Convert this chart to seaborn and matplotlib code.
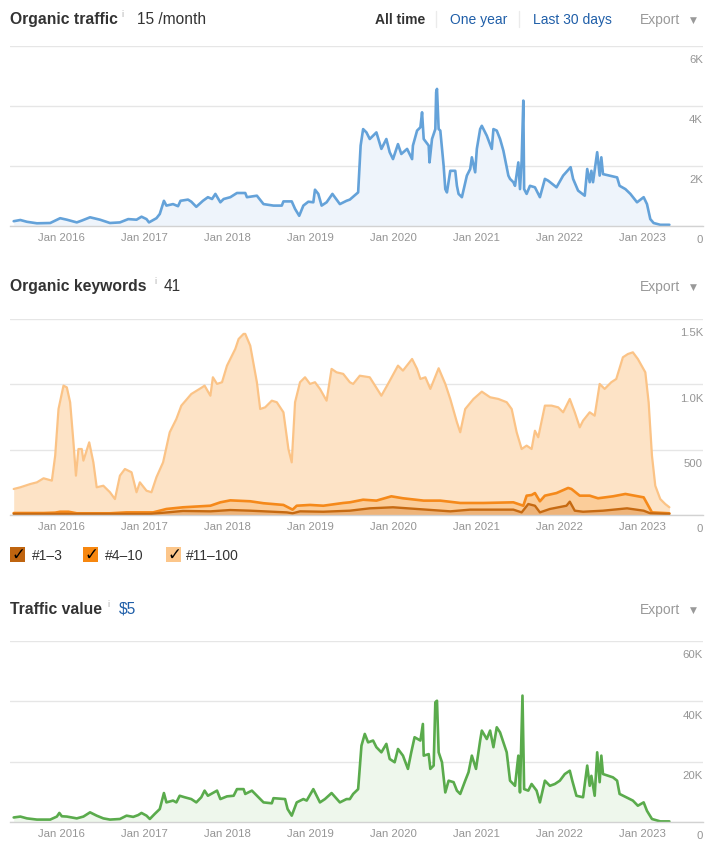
import numpy as np
import matplotlib
matplotlib.use("Agg")
import matplotlib.pyplot as plt
import matplotlib.patches as mpatches
import matplotlib.lines as mlines
import seaborn as sns

# --------------------------------------------------------------------------- #
# Data (time in decimal years)
# --------------------------------------------------------------------------- #
traffic_t = [
    2015.43, 2015.51, 2015.59, 2015.71, 2015.87, 2015.99, 2016.07, 2016.19, 2016.25, 2016.35,
    2016.47, 2016.59, 2016.71, 2016.81, 2016.91, 2016.97, 2017.03, 2017.06, 2017.15, 2017.19,
    2017.24, 2017.27, 2017.35, 2017.41, 2017.44, 2017.53, 2017.57, 2017.63, 2017.71, 2017.77,
    2017.82, 2017.86, 2017.92, 2017.96, 2018.04, 2018.12, 2018.22, 2018.24, 2018.36, 2018.44,
    2018.56, 2018.66, 2018.68, 2018.78, 2018.82, 2018.87, 2018.92, 2018.98, 2019.04, 2019.06,
    2019.10, 2019.14, 2019.20, 2019.27, 2019.36, 2019.44, 2019.48, 2019.56, 2019.58, 2019.61,
    2019.64, 2019.68, 2019.72, 2019.80, 2019.86, 2019.92, 2019.96, 2020.00, 2020.06, 2020.10,
    2020.17, 2020.23, 2020.24, 2020.29, 2020.33, 2020.35, 2020.37, 2020.43, 2020.44, 2020.47,
    2020.51, 2020.52, 2020.53, 2020.55, 2020.57, 2020.61, 2020.63, 2020.65, 2020.69, 2020.75,
    2020.77, 2020.79, 2020.83, 2020.89, 2020.93, 2020.95, 2020.99, 2021.01, 2021.05, 2021.07,
    2021.13, 2021.19, 2021.21, 2021.25, 2021.29, 2021.33, 2021.39, 2021.41, 2021.45, 2021.47,
    2021.51, 2021.53, 2021.55, 2021.57, 2021.58, 2021.61, 2021.65, 2021.71, 2021.77, 2021.83,
    2021.87, 2021.97, 2022.05, 2022.14, 2022.17, 2022.23, 2022.31, 2022.34, 2022.37, 2022.39,
    2022.41, 2022.46, 2022.49, 2022.51, 2022.53, 2022.61, 2022.70, 2022.73, 2022.80, 2022.86,
    2022.94, 2023.02, 2023.06, 2023.10, 2023.14, 2023.22, 2023.33,
]
traffic = [
    160, 200, 140, 90, 100, 260, 210, 120, 180, 290,
    210, 100, 120, 230, 210, 310, 230, 120, 260, 400,
    840, 680, 730, 660, 840, 880, 810, 640, 840, 960,
    900, 1070, 790, 900, 960, 1100, 1100, 960, 1010, 730,
    680, 680, 820, 820, 570, 340, 680, 810, 790, 1210,
    1070, 680, 790, 1070, 730, 840, 880, 1070, 1120, 2680,
    3230, 3120, 2900, 3120, 2570, 2900, 2460, 2230, 2730, 2400,
    2570, 2230, 2680, 3180, 3290, 3790, 2900, 2680, 2120, 2900,
    3230, 4460, 4570, 3230, 3180, 2010, 1230, 1120, 1840, 1840,
    1340, 1070, 960, 1680, 1900, 2290, 1790, 2570, 3230, 3340,
    3010, 2570, 3230, 3180, 2900, 2510, 1680, 1570, 1460, 1340,
    2120, 1230, 2180, 4180, 1230, 1070, 1340, 1290, 960, 1570,
    1510, 1290, 1680, 1960, 1570, 1180, 1010, 1900, 1460, 1840,
    1460, 2460, 1680, 2290, 1730, 1680, 1620, 1340, 1230, 1070,
    790, 960, 730, 230, 100, 40, 40,
]

# keywords ranking in top 100 / top 10 / top 3 (nested, so they stack)
kw100_t = [
    2015.43, 2015.51, 2015.63, 2015.71, 2015.79, 2015.89, 2015.93, 2015.97, 2016.03, 2016.07,
    2016.11, 2016.15, 2016.18, 2016.21, 2016.25, 2016.27, 2016.34, 2016.39, 2016.43, 2016.51,
    2016.59, 2016.65, 2016.71, 2016.77, 2016.85, 2016.91, 2016.95, 2017.03, 2017.09, 2017.15,
    2017.23, 2017.31, 2017.39, 2017.45, 2017.57, 2017.70, 2017.73, 2017.80, 2017.83, 2017.88,
    2017.94, 2018.00, 2018.10, 2018.14, 2018.20, 2018.22, 2018.28, 2018.36, 2018.40, 2018.46,
    2018.54, 2018.60, 2018.68, 2018.74, 2018.78, 2018.82, 2018.88, 2018.94, 2019.00, 2019.06,
    2019.12, 2019.20, 2019.26, 2019.32, 2019.40, 2019.48, 2019.52, 2019.60, 2019.72, 2019.86,
    2019.94, 2020.06, 2020.12, 2020.23, 2020.29, 2020.33, 2020.39, 2020.45, 2020.55, 2020.63,
    2020.69, 2020.77, 2020.81, 2020.87, 2020.97, 2021.07, 2021.17, 2021.27, 2021.37, 2021.43,
    2021.49, 2021.55, 2021.61, 2021.67, 2021.71, 2021.75, 2021.83, 2021.91, 2021.99, 2022.05,
    2022.13, 2022.19, 2022.25, 2022.29, 2022.37, 2022.43, 2022.49, 2022.55, 2022.63, 2022.69,
    2022.77, 2022.83, 2022.89, 2022.95, 2023.04, 2023.08, 2023.12, 2023.16, 2023.22, 2023.28,
    2023.33,
]
kw100 = [
    199, 212, 237, 250, 281, 263, 454, 811, 990, 977,
    863, 556, 301, 505, 505, 416, 556, 403, 212, 224,
    174, 122, 301, 352, 327, 174, 250, 186, 174, 289,
    403, 633, 735, 837, 926, 977, 990, 913, 1054, 1003,
    1016, 1143, 1271, 1347, 1386, 1386, 1296, 1016, 811, 824,
    875, 863, 786, 505, 403, 863, 1016, 1054, 1003, 1016,
    965, 875, 1118, 1092, 1080, 1016, 1003, 1066, 1054, 913,
    1003, 1143, 1105, 1194, 1118, 1041, 1054, 965, 1123, 1003,
    888, 710, 633, 811, 888, 944, 901, 888, 863, 811,
    633, 505, 531, 505, 645, 595, 837, 837, 824, 786,
    888, 786, 671, 722, 786, 760, 1003, 965, 1016, 1041,
    1207, 1232, 1245, 1194, 1092, 863, 454, 224, 122, 84,
    59,
]
kw10_t = [
    2015.43, 2015.79, 2015.93, 2015.99, 2016.09, 2016.19, 2016.59, 2016.79, 2017.11, 2017.27,
    2017.47, 2017.80, 2017.92, 2018.04, 2018.28, 2018.44, 2018.68, 2018.79, 2018.84, 2019.00,
    2019.16, 2019.40, 2019.48, 2019.64, 2019.80, 2019.98, 2020.12, 2020.37, 2020.57, 2020.81,
    2021.09, 2021.45, 2021.57, 2021.61, 2021.67, 2021.71, 2021.77, 2021.83, 2021.97, 2022.11,
    2022.15, 2022.25, 2022.37, 2022.47, 2022.65, 2022.80, 2023.02, 2023.12, 2023.33,
]
kw10 = [
    15, 15, 18, 25, 25, 13, 13, 20, 20, 46,
    59, 71, 97, 112, 105, 90, 77, 41, 71, 77,
    71, 92, 97, 117, 110, 143, 128, 110, 110, 92,
    92, 97, 71, 148, 153, 168, 105, 148, 168, 207,
    199, 148, 148, 128, 143, 161, 135, 20, 13,
]
kw3_t = [
    2015.43, 2017.07, 2017.47, 2017.80, 2018.04, 2018.28, 2018.72, 2018.79, 2018.88, 2019.16,
    2019.48, 2019.72, 2020.00, 2020.29, 2020.69, 2020.93, 2021.45, 2021.55, 2021.63, 2021.71,
    2021.77, 2021.89, 2022.09, 2022.13, 2022.19, 2022.29, 2022.53, 2022.82, 2023.02, 2023.10,
    2023.33,
]
kw3 = [
    8, 8, 31, 28, 38, 33, 20, 13, 28, 25,
    33, 51, 59, 46, 28, 41, 41, 20, 84, 71,
    20, 46, 71, 102, 33, 25, 33, 51, 33, 13,
    8,
]

value_t = [
    2015.43, 2015.51, 2015.59, 2015.71, 2015.87, 2015.95, 2015.98, 2016.01, 2016.07, 2016.19,
    2016.27, 2016.35, 2016.43, 2016.51, 2016.59, 2016.71, 2016.79, 2016.87, 2016.93, 2016.97,
    2017.03, 2017.07, 2017.13, 2017.19, 2017.24, 2017.27, 2017.35, 2017.39, 2017.43, 2017.49,
    2017.57, 2017.63, 2017.69, 2017.73, 2017.77, 2017.88, 2017.92, 2018.00, 2018.08, 2018.12,
    2018.20, 2018.22, 2018.30, 2018.38, 2018.44, 2018.54, 2018.56, 2018.70, 2018.73, 2018.78,
    2018.84, 2018.92, 2018.96, 2019.04, 2019.08, 2019.12, 2019.18, 2019.26, 2019.36, 2019.44,
    2019.48, 2019.52, 2019.58, 2019.62, 2019.66, 2019.70, 2019.76, 2019.80, 2019.86, 2019.92,
    2019.96, 2020.02, 2020.06, 2020.12, 2020.18, 2020.22, 2020.26, 2020.33, 2020.36, 2020.37,
    2020.43, 2020.45, 2020.49, 2020.51, 2020.53, 2020.55, 2020.59, 2020.63, 2020.67, 2020.73,
    2020.77, 2020.81, 2020.87, 2020.91, 2020.95, 2021.00, 2021.05, 2021.07, 2021.13, 2021.17,
    2021.21, 2021.25, 2021.29, 2021.33, 2021.37, 2021.41, 2021.47, 2021.51, 2021.53, 2021.56,
    2021.58, 2021.63, 2021.67, 2021.73, 2021.77, 2021.83, 2021.89, 2021.95, 2022.01, 2022.07,
    2022.13, 2022.16, 2022.21, 2022.29, 2022.34, 2022.37, 2022.39, 2022.43, 2022.46, 2022.49,
    2022.51, 2022.53, 2022.65, 2022.70, 2022.73, 2022.81, 2022.89, 2022.95, 2023.02, 2023.06,
    2023.12, 2023.22, 2023.33,
]
value = [
    1500, 1800, 1200, 800, 800, 1800, 3000, 1900, 1800, 1200,
    1800, 3200, 2100, 1200, 800, 1000, 2100, 1700, 2300, 3000,
    2100, 1000, 2700, 4300, 9600, 6500, 7100, 6500, 8700, 8200,
    7600, 6500, 8200, 10400, 8700, 10400, 7600, 8500, 8700, 10900,
    10900, 9300, 10400, 8200, 6500, 6200, 7900, 7600, 4300, 2100,
    6500, 7600, 7100, 10900, 8700, 6500, 7600, 9600, 6500, 7600,
    7600, 9300, 10900, 25300, 29200, 26400, 27000, 24800, 23100, 25900,
    20900, 19800, 24200, 22000, 17600, 23100, 28100, 27000, 32500, 22000,
    22500, 17600, 18700, 39700, 40200, 23100, 19800, 9800, 13700, 13200,
    10400, 9300, 13700, 16500, 22000, 17600, 27000, 30300, 27500, 30300,
    24800, 31400, 29700, 26400, 23100, 13700, 12000, 22000, 9800, 41900,
    10900, 10400, 12600, 10400, 6500, 13700, 12000, 12600, 13700, 15900,
    17000, 13700, 8700, 8200, 18700, 12000, 15300, 8700, 23100, 13200,
    22000, 15900, 14800, 13700, 9300, 8200, 7100, 5400, 6500, 3700,
    1000, 200, 200,
]

years = [2016, 2017, 2018, 2019, 2020, 2021, 2022, 2023]
traffic_ticks = [0, 2000, 4000, 6000]
traffic_tick_labels = ["0", "2K", "4K", "6K"]
kw_ticks = [0, 500, 1000, 1500]
kw_tick_labels = ["0", "500", "1.0K", "1.5K"]
value_ticks = [0, 20000, 40000, 60000]
value_tick_labels = ["0", "20K", "40K", "60K"]
legend_labels = ["#1–3", "#4–10", "#11–100"]

# --------------------------------------------------------------------------- #
# Figure setup
# --------------------------------------------------------------------------- #
sns.set_theme(style="white")
plt.rcParams["font.family"] = ["Liberation Sans", "DejaVu Sans"]

W, H = 708, 845
fig = plt.figure(figsize=(W / 100, H / 100), dpi=100)
fig.patch.set_facecolor("white")

DARK = "#333333"
GREY = "#999999"
BLUE_TXT = "#1f5ea8"


def fx(x):
    return x / W


def fy(y):
    return 1 - y / H


def rect(x0, y0, x1, y1):
    return [fx(x0), fy(y1), (x1 - x0) / W, (y1 - y0) / H]


X_MIN = 2016 + (10 - 61) / 83
X_MAX = 2016 + (703 - 61) / 83


def style_panel(ax, ticks, labels):
    ax.set_xlim(X_MIN, X_MAX)
    ax.set_ylim(0, ticks[-1])
    ax.set_yticks(ticks)
    ax.set_yticklabels([])
    ax.tick_params(axis="y", length=0)
    ax.grid(axis="y", color="#e6e6e6", lw=1)
    ax.grid(axis="x", visible=False)
    for s in ["top", "right", "left"]:
        ax.spines[s].set_visible(False)
    ax.spines["bottom"].set_color("#d2d2d2")
    ax.spines["bottom"].set_linewidth(1)
    ax.set_xticks(years)
    ax.set_xticklabels([f"Jan {y}" for y in years])
    ax.tick_params(axis="x", direction="in", length=4.7, width=0.8,
                   color="#d8d8d8", labelcolor="#959595", labelsize=8.2, pad=4)
    for v, lab in zip(ticks, labels):
        ax.annotate(lab, (1, v), xycoords=ax.get_yaxis_transform(),
                    xytext=(0, -9.7), textcoords="offset points",
                    ha="right", va="center", color="#959595", fontsize=8.2)
    ax.set_xlabel("")
    ax.set_ylabel("")


def header(y, title, info_x, value_txt, value_x, value_color):
    fig.text(fx(10), fy(y), title, fontsize=11.3, fontweight="bold", color=DARK)
    fig.text(fx(info_x), fy(y - 7), "i", fontsize=6.5, color="#b0b0b0")
    fig.text(fx(value_x), fy(y), value_txt, fontsize=11.2, color=value_color)
    fig.text(fx(640), fy(y), "Export", fontsize=10, color=GREY)
    fig.text(fx(693), fy(y - 1), "▼", fontsize=6.5, color=GREY, ha="center",
             family=["DejaVu Sans"])


# --------------------------------------------------------------------------- #
# Panel 1: organic traffic
# --------------------------------------------------------------------------- #
ax1 = fig.add_axes(rect(10, 47, 703, 227))
ax1.fill_between(traffic_t, 0, traffic, color="#eef4fb", lw=0)
sns.lineplot(x=traffic_t, y=traffic, ax=ax1, color="#64a2d9", lw=1.9,
             estimator=None, sort=False)
style_panel(ax1, traffic_ticks, traffic_tick_labels)

header(24, "Organic traffic", 121, "15 /month", 137, DARK)
fig.text(fx(375), fy(24), "All time", fontsize=10, fontweight="bold", color=DARK)
fig.text(fx(450), fy(24), "One year", fontsize=10, color=BLUE_TXT)
fig.text(fx(533), fy(24), "Last 30 days", fontsize=10, color=BLUE_TXT)
for sx in (436, 519):
    fig.add_artist(mlines.Line2D([fx(sx), fx(sx)], [fy(12), fy(28)],
                                 color="#ebebeb", lw=1, transform=fig.transFigure))

# --------------------------------------------------------------------------- #
# Panel 2: organic keywords (nested rank buckets)
# --------------------------------------------------------------------------- #
ax2 = fig.add_axes(rect(10, 320, 703, 516))
ax2.fill_between(kw100_t, 0, kw100, color="#fde3c6", lw=0)
ax2.fill_between(kw10_t, 0, kw10, color="#fbcd9a", lw=0)
ax2.fill_between(kw3_t, 0, kw3, color="#eeb47a", lw=0)
sns.lineplot(x=kw100_t, y=kw100, ax=ax2, color="#fbc386", lw=1.6,
             estimator=None, sort=False)
sns.lineplot(x=kw10_t, y=kw10, ax=ax2, color="#f5891a", lw=1.9,
             estimator=None, sort=False)
sns.lineplot(x=kw3_t, y=kw3, ax=ax2, color="#c66a12", lw=1.7,
             estimator=None, sort=False)
style_panel(ax2, kw_ticks, kw_tick_labels)

header(291, "Organic keywords", 154, "41", 164, DARK)

# legend with check boxes
box_colors = ["#bf640f", "#f7870f", "#fcc68a"]
box_x = [10, 83, 166]
text_x = [32, 105, 186]
for bx, tx, col, lab in zip(box_x, text_x, box_colors, legend_labels):
    fig.add_artist(mpatches.Rectangle((fx(bx), fy(563)), 15 / W, 15 / H,
                                      transform=fig.transFigure, color=col, lw=0))
    fig.text(fx(bx + 8), fy(555), "✓", fontsize=12, fontweight="bold",
             color="black", ha="center", va="center", family=["DejaVu Sans"])
    fig.text(fx(tx), fy(556), lab, fontsize=10, color=DARK, va="center")

# --------------------------------------------------------------------------- #
# Panel 3: traffic value
# --------------------------------------------------------------------------- #
ax3 = fig.add_axes(rect(10, 642, 703, 823))
ax3.fill_between(value_t, 0, value, color="#eef7ec", lw=0)
sns.lineplot(x=value_t, y=value, ax=ax3, color="#5aab4c", lw=1.9,
             estimator=None, sort=False)
style_panel(ax3, value_ticks, value_tick_labels)

header(614, "Traffic value", 107, "$5", 119, BLUE_TXT)

fig.savefig("out.png", dpi=100, facecolor="white")
